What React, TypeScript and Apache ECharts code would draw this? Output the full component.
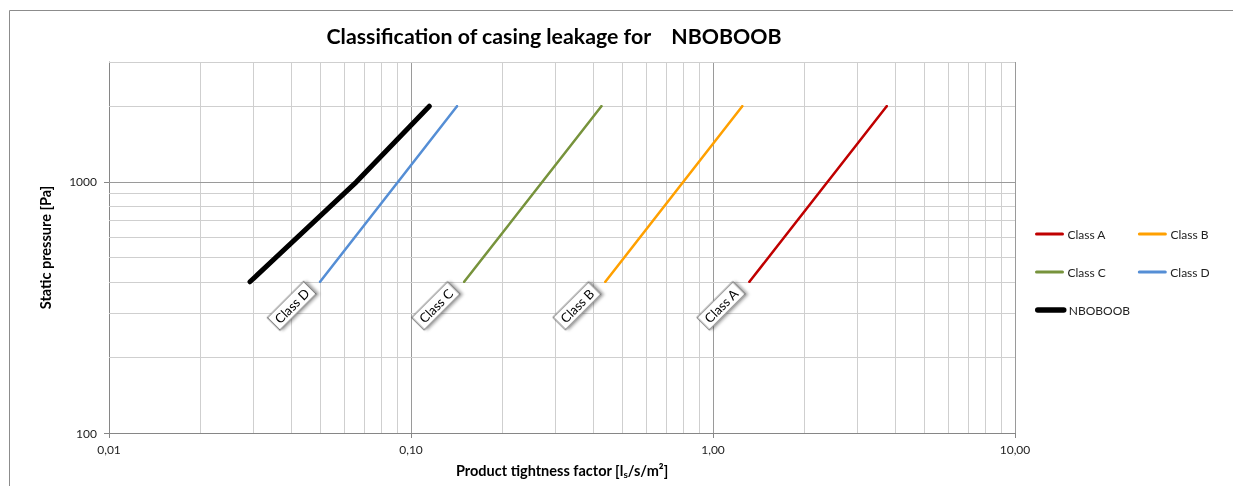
import React, { useEffect, useRef } from "react";
import * as echarts from "echarts";

const pressures = [400, 2000];
const classA = [1.32, 3.76];
const classB = [0.44, 1.25];
const classC = [0.15, 0.427];
const classD = [0.05, 0.142];
const nbPressures = [400, 1000, 2000];
const nbValues = [0.0293, 0.066, 0.115];

const classNames = ["Class A", "Class B", "Class C", "Class D"];
const classColors = ["#C00000", "#FFA000", "#77933C", "#558ED5"];
const classValues = [classA, classB, classC, classD];

const xMinorGrid = [0.02, 0.03, 0.04, 0.05, 0.06, 0.07, 0.08, 0.09, 0.2, 0.3, 0.4, 0.5, 0.6, 0.7, 0.8, 0.9, 2, 3, 4, 5, 6, 7, 8, 9];
const xMajorGrid = [0.1, 1, 10];
const yMinorGrid = [200, 300, 400, 500, 600, 700, 800, 900, 2000, 3000];
const yMajorGrid = [1000];
const yTickValues = [100, 1000];

const FONT = "Lato, 'Open Sans', sans-serif";

export default function App() {
  const ref = useRef<HTMLDivElement>(null);
  useEffect(() => {
    const chart = echarts.init(ref.current!, undefined, { renderer: "svg" });
    const minor = { color: "#cfcfcf", width: 1, type: "solid" };
    const major = { color: "#9a9a9a", width: 1, type: "solid" };
    const gridLines = [
      ...xMinorGrid.map((v) => ({ xAxis: v, lineStyle: minor })),
      ...xMajorGrid.map((v) => ({ xAxis: v, lineStyle: major })),
      ...yMinorGrid.map((v) => ({ yAxis: v, lineStyle: minor })),
      ...yMajorGrid.map((v) => ({ yAxis: v, lineStyle: major })),
    ];
    const classSeries = classNames.map((name, i) => ({
      name,
      type: "line",
      z: 3,
      symbol: "circle",
      symbolSize: 2,
      showSymbol: true,
      color: classColors[i],
      lineStyle: { width: 2.5, color: classColors[i], cap: "round" },
      label: {
        show: false,
        formatter: "{a}",
        position: "inside",
        offset: [-37, -3],
        rotate: 45,
        align: "center",
        verticalAlign: "middle",
        fontFamily: FONT,
        fontSize: 13,
        color: "#000",
        backgroundColor: "#fff",
        borderColor: "#404040",
        borderWidth: 0.8,
        padding: [2, 4, 2, 4],
        shadowColor: "rgba(0,0,0,0.35)",
        shadowBlur: 3,
        shadowOffsetX: 2,
        shadowOffsetY: 2,
      },
      data: pressures.map((p, j) =>
        j === 0 ? { value: [classValues[i][j], p], label: { show: true } } : [classValues[i][j], p]
      ),
      markLine:
        i === 0
          ? {
              silent: true,
              symbol: "none",
              z: 1,
              label: { show: false },
              data: gridLines,
            }
          : undefined,
    }));
    const legendBase = {
      left: 1035,
      padding: 0,
      itemWidth: 26,
      itemHeight: 14,
      itemGap: 32,
      itemStyle: { opacity: 0 },
      textStyle: { fontFamily: FONT, fontSize: 12, color: "#222" },
    };
    chart.setOption({
      animation: false,
      textStyle: { fontFamily: FONT },
      title: {
        text: "Classification of casing leakage for    NBOBOOB",
        left: 549,
        top: 20,
        textAlign: "center",
        textStyle: { fontFamily: FONT, fontSize: 21.3, fontWeight: "bold", color: "#000" },
      },
      graphic: [
        {
          type: "rect",
          shape: { x: 9.5, y: 10.5, width: 1300, height: 600 },
          style: { fill: "none", stroke: "#8c8c8c", lineWidth: 1 },
          silent: true,
          z: -10,
        },
      ],
      legend: [
        { ...legendBase, top: 228, lineStyle: { width: 3, cap: "round" }, data: [classNames[0], classNames[1]] },
        { ...legendBase, top: 266, lineStyle: { width: 3, cap: "round" }, data: [classNames[2], classNames[3]] },
        { ...legendBase, top: 304, lineStyle: { width: 5.5, cap: "round" }, data: ["NBOBOOB"] },
      ],
      grid: { left: 109, right: 218, top: 62, bottom: 53 },
      xAxis: {
        type: "log",
        logBase: 10,
        min: 0.01,
        max: 10,
        name: "Product tightness factor [l{sub|s}/s/m²]",
        nameLocation: "middle",
        nameGap: 29,
        nameTextStyle: {
          fontFamily: FONT,
          fontSize: 14.5,
          fontWeight: "bold",
          color: "#000",
          rich: { sub: { fontSize: 10, fontWeight: "bold", verticalAlign: "bottom", padding: [7, 0, 0, 0], fontFamily: FONT } },
        },
        axisLine: { show: true, lineStyle: { color: "#868686" } },
        axisTick: { show: true, length: 5, lineStyle: { color: "#868686" } },
        axisLabel: {
          fontSize: 12,
          color: "#222",
          margin: 10,
          formatter: (v: number) => v.toFixed(2).replace(".", ","),
        },
        splitLine: { show: false },
      },
      yAxis: {
        type: "log",
        logBase: 10,
        min: 100,
        max: 3000,
        name: "Static pressure [Pa]",
        nameLocation: "middle",
        nameGap: 56,
        nameTextStyle: { fontFamily: FONT, fontSize: 14.5, fontWeight: "bold", color: "#000" },
        axisLine: { show: true, lineStyle: { color: "#868686" } },
        axisTick: { show: true, length: 5, lineStyle: { color: "#868686" }, customValues: yTickValues },
        axisLabel: {
          fontSize: 12,
          color: "#222",
          margin: 12,
          customValues: yTickValues,
          formatter: (v: number) => String(Math.round(v)),
        },
        splitLine: { show: false },
      },
      series: [
        ...classSeries,
        {
          name: "NBOBOOB",
          type: "line",
          z: 4,
          symbol: "none",
          color: "#000",
          lineStyle: { width: 5, color: "#000", cap: "round", join: "round" },
          data: nbPressures.map((p, j) => [nbValues[j], p]),
        },
      ],
    });
    return () => chart.dispose();
  }, []);
  return <div ref={ref} style={{ position: "fixed", left: 0, top: 0, width: 1233, height: 486 }} />;
}
